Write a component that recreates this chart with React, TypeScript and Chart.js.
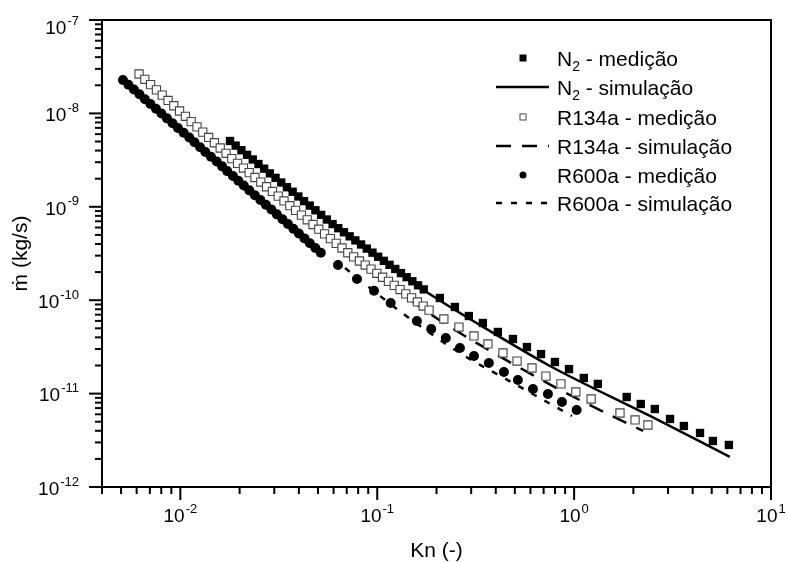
import React, { useEffect, useRef } from 'react';
import { Chart, registerables } from 'chart.js';

Chart.register(...registerables);

// ---------------- data ----------------
const n2MeasKn = [
  0.01787, 0.0191, 0.02042, 0.02182, 0.02332, 0.02493, 0.02665, 0.02849, 0.03045, 0.03255,
  0.03479, 0.03719, 0.03976, 0.04249, 0.04543, 0.04856, 0.05191, 0.05548, 0.05931, 0.0634,
  0.06777, 0.07244, 0.07745, 0.08278, 0.08849, 0.09459, 0.1011, 0.1081, 0.1155, 0.1235,
  0.132, 0.1411, 0.1508, 0.1612, 0.1723,
  0.208, 0.248, 0.292, 0.344, 0.41, 0.489, 0.576, 0.679, 0.799, 0.942,
  1.12, 1.32, 1.85, 2.18, 2.57, 3.07, 3.61, 4.36, 5.07, 6.11,
];
const n2MeasFlow = [
  5.065e-9, 4.52e-9, 4.03e-9, 3.6e-9, 3.21e-9, 2.87e-9, 2.56e-9, 2.28e-9, 2.04e-9, 1.82e-9,
  1.62e-9, 1.45e-9, 1.29e-9, 1.15e-9, 1.03e-9, 9.18e-10, 8.19e-10, 7.31e-10, 6.53e-10, 5.9e-10,
  5.34e-10, 4.83e-10, 4.37e-10, 3.95e-10, 3.57e-10, 3.23e-10, 2.92e-10, 2.64e-10, 2.39e-10, 2.16e-10,
  1.95e-10, 1.765e-10, 1.596e-10, 1.443e-10, 1.305e-10,
  1.056e-10, 8.46e-11, 6.77e-11, 5.7e-11, 4.57e-11, 3.84e-11, 3.15e-11, 2.65e-11, 2.18e-11, 1.83e-11,
  1.47e-11, 1.27e-11, 9.2e-12, 7.74e-12, 6.84e-12, 5.35e-12, 4.5e-12, 3.79e-12, 3.11e-12, 2.82e-12,
];
const n2SimKn = [0.0179, 0.0575, 0.175, 0.332, 0.754, 2.43, 6.18];
const n2SimFlow = [4.94e-9, 6.71e-10, 1.255e-10, 5.43e-11, 1.975e-11, 5.76e-12, 2.1e-12];

const r134aMeasKn = [
  0.00617, 0.0066, 0.00706, 0.00756, 0.00809, 0.00866, 0.00926, 0.00991, 0.01061, 0.01135,
  0.01215, 0.013, 0.01392, 0.01489, 0.01594, 0.01706, 0.01825, 0.01953, 0.02091, 0.02237,
  0.02394, 0.02562, 0.02742, 0.02935, 0.03141, 0.03361, 0.03597, 0.0385, 0.0412, 0.04409,
  0.04719, 0.0505, 0.05404, 0.05784, 0.0619, 0.06624, 0.07089, 0.07587, 0.08119, 0.08689,
  0.09299, 0.09952, 0.1065, 0.114, 0.122, 0.1306, 0.1397, 0.1495, 0.16, 0.1712, 0.1833,
  0.218, 0.26, 0.31, 0.365, 0.435, 0.513, 0.611, 0.719, 0.857, 1.02, 1.22, 1.71, 2.04, 2.37,
];
const r134aMeasFlow = [
  2.641e-8, 2.318e-8, 2.035e-8, 1.786e-8, 1.568e-8, 1.376e-8, 1.208e-8, 1.061e-8, 9.31e-9, 8.17e-9,
  7.17e-9, 6.3e-9, 5.53e-9, 4.85e-9, 4.26e-9, 3.74e-9, 3.28e-9, 2.92e-9, 2.6e-9, 2.32e-9,
  2.06e-9, 1.84e-9, 1.64e-9, 1.46e-9, 1.3e-9, 1.155e-9, 1.028e-9, 9.16e-10, 8.15e-10, 7.26e-10,
  6.46e-10, 5.76e-10, 5.13e-10, 4.56e-10, 4.06e-10, 3.62e-10, 3.22e-10, 2.91e-10, 2.63e-10, 2.38e-10,
  2.15e-10, 1.94e-10, 1.76e-10, 1.59e-10, 1.44e-10, 1.3e-10, 1.17e-10, 1.06e-10, 9.58e-11, 8.66e-11, 7.83e-11,
  6.29e-11, 5.16e-11, 4.14e-11, 3.4e-11, 2.72e-11, 2.23e-11, 1.88e-11, 1.54e-11, 1.27e-11, 1.04e-11,
  8.75e-12, 6.2e-12, 5.22e-12, 4.61e-12,
];
const r134aSimKn = [0.147, 0.218, 0.495, 0.867, 1.54, 2.24];
const r134aSimFlow = [1.01e-10, 5.7e-11, 2.05e-11, 1.07e-11, 5.83e-12, 3.98e-12];

const r600aMeasKn = [
  0.00511, 0.00545, 0.00581, 0.0062, 0.00661, 0.00705, 0.00752, 0.00802, 0.00855, 0.00912,
  0.00972, 0.0104, 0.0111, 0.0118, 0.0126, 0.0134, 0.0143, 0.0153, 0.0163, 0.0173,
  0.0185, 0.0197, 0.021, 0.0224, 0.0239, 0.0255, 0.0272, 0.029, 0.0309, 0.033,
  0.0352, 0.0375, 0.04, 0.0427, 0.0455, 0.0485, 0.0517,
  0.0632, 0.0789, 0.0963, 0.117, 0.159, 0.188, 0.223, 0.263, 0.31, 0.369,
  0.44, 0.518, 0.618, 0.736, 0.867, 1.03,
];
const r600aMeasFlow = [
  2.28e-8, 2.03e-8, 1.8e-8, 1.6e-8, 1.42e-8, 1.26e-8, 1.12e-8, 9.96e-9, 8.85e-9, 7.86e-9,
  6.98e-9, 6.2e-9, 5.51e-9, 4.9e-9, 4.35e-9, 3.86e-9, 3.43e-9, 3.05e-9, 2.71e-9, 2.41e-9,
  2.14e-9, 1.9e-9, 1.69e-9, 1.5e-9, 1.33e-9, 1.18e-9, 1.05e-9, 9.34e-10, 8.3e-10, 7.37e-10,
  6.55e-10, 5.82e-10, 5.17e-10, 4.59e-10, 4.08e-10, 3.62e-10, 3.22e-10,
  2.38e-10, 1.69e-10, 1.26e-10, 9.33e-11, 5.99e-11, 4.91e-11, 3.94e-11, 3.08e-11, 2.53e-11, 2.13e-11,
  1.7e-11, 1.4e-11, 1.12e-11, 9.9e-12, 8.13e-12, 6.68e-12,
];
const r600aSimKn = [0.0686, 0.134, 0.263, 0.489, 0.975];
const r600aSimFlow = [2.21e-10, 7.29e-11, 2.72e-11, 1.3e-11, 5.76e-12];

// axes
const xMin = 0.004;
const xMax = 10;
const yMin = 1e-12;
const yMax = 1e-7;
const xMajorExps = [-2, -1, 0, 1];
const yMajorExps = [-12, -11, -10, -9, -8, -7];
const xMinorDecades = [-3, -2, -1, 0];
const yMinorDecades = [-12, -11, -10, -9, -8];
const minorMultipliers = [2, 3, 4, 5, 6, 7, 8, 9];
const xTitle = 'Kn (-)';
const yTitle = 'ṁ (kg/s)';

// legend
const legendLabels = [
  { main: 'N', sub: '2', rest: ' - medição', kind: 'filledSquare' },
  { main: 'N', sub: '2', rest: ' - simulação', kind: 'solid' },
  { main: 'R134a - medição', sub: '', rest: '', kind: 'openSquare' },
  { main: 'R134a - simulação', sub: '', rest: '', kind: 'longDash' },
  { main: 'R600a - medição', sub: '', rest: '', kind: 'circle' },
  { main: 'R600a - simulação', sub: '', rest: '', kind: 'shortDash' },
];

const FONT = '"Liberation Sans", Arial, Helvetica, sans-serif';
const LONG_DASH = [15, 11];
const SHORT_DASH = [6, 9];

const pts = (xs: number[], ys: number[]) => xs.map((x, i) => ({ x, y: ys[i] }));

function drawPower(ctx: CanvasRenderingContext2D, exp: number, x: number, cy: number, align: 'center' | 'right') {
  const baseFont = `19px ${FONT}`;
  const supFont = `13px ${FONT}`;
  ctx.font = baseFont;
  const wb = ctx.measureText('10').width;
  ctx.font = supFont;
  const sup = String(exp);
  const ws = ctx.measureText(sup).width;
  const total = wb + 1 + ws;
  const left = align === 'center' ? x - total / 2 : x - total;
  ctx.textAlign = 'left';
  ctx.textBaseline = 'alphabetic';
  ctx.font = baseFont;
  ctx.fillText('10', left, cy + 19 * 0.358);
  ctx.font = supFont;
  ctx.fillText(sup, left + wb + 1, cy - 7 + 13 * 0.358);
}

const decorPlugin = {
  id: 'decor',
  afterDraw(chart: any) {
    const { ctx, chartArea: a, scales } = chart;
    const xs = scales.x;
    const ys = scales.y;
    ctx.save();
    ctx.fillStyle = '#000';
    ctx.strokeStyle = '#000';
    ctx.lineWidth = 2;
    ctx.setLineDash([]);
    ctx.strokeRect(a.left, a.top, a.right - a.left, a.bottom - a.top);

    const tick = (x1: number, y1: number, x2: number, y2: number) => {
      ctx.beginPath();
      ctx.moveTo(x1, y1);
      ctx.lineTo(x2, y2);
      ctx.stroke();
    };
    // x ticks
    xMajorExps.forEach((e) => {
      const px = xs.getPixelForValue(Math.pow(10, e));
      tick(px, a.bottom, px, a.bottom + 13);
      drawPower(ctx, e, px, 515, 'center');
    });
    xMinorDecades.forEach((e) => {
      minorMultipliers.forEach((m) => {
        const v = m * Math.pow(10, e);
        if (v < xMin * 0.999 || v > xMax * 1.001) return;
        const px = xs.getPixelForValue(v);
        tick(px, a.bottom, px, a.bottom + 7);
      });
    });
    // y ticks
    yMajorExps.forEach((e) => {
      const py = ys.getPixelForValue(Math.pow(10, e));
      tick(a.left, py, a.left - 13, py);
      drawPower(ctx, e, 79, Math.max(py + 1, 27), 'right');
    });
    yMinorDecades.forEach((e) => {
      minorMultipliers.forEach((m) => {
        const v = m * Math.pow(10, e);
        if (v < yMin * 0.999 || v > yMax * 1.001) return;
        const py = ys.getPixelForValue(v);
        tick(a.left, py, a.left - 7, py);
      });
    });

    // axis titles
    ctx.font = `21px ${FONT}`;
    ctx.textAlign = 'center';
    ctx.textBaseline = 'alphabetic';
    ctx.fillText(xTitle, (a.left + a.right) / 2, 557);
    ctx.save();
    ctx.translate(27, (a.top + a.bottom) / 2);
    ctx.rotate(-Math.PI / 2);
    ctx.fillText(yTitle, 0, 0);
    ctx.restore();

    // legend
    const rowY = [58, 87, 117, 146, 175, 203];
    const symX = 523;
    const lineX1 = 496;
    const lineX2 = 549;
    const textX = 557;
    legendLabels.forEach((item, i) => {
      const y = rowY[i];
      ctx.setLineDash([]);
      ctx.lineWidth = 2.5;
      if (item.kind === 'filledSquare') {
        ctx.fillRect(symX - 3.5, y - 3.5, 7, 7);
      } else if (item.kind === 'openSquare') {
        ctx.lineWidth = 1;
        ctx.strokeStyle = '#444';
        ctx.strokeRect(symX - 3, y - 3, 6, 6);
        ctx.strokeStyle = '#000';
      } else if (item.kind === 'circle') {
        ctx.beginPath();
        ctx.arc(symX, y, 3.5, 0, Math.PI * 2);
        ctx.fill();
      } else {
        if (item.kind === 'longDash') ctx.setLineDash(LONG_DASH);
        if (item.kind === 'shortDash') ctx.setLineDash(SHORT_DASH);
        tick(lineX1, y, lineX2, y);
        ctx.setLineDash([]);
      }
      ctx.textAlign = 'left';
      ctx.textBaseline = 'alphabetic';
      const base = y + 21 * 0.358;
      ctx.font = `21px ${FONT}`;
      ctx.fillText(item.main, textX, base);
      let cx = textX + ctx.measureText(item.main).width;
      if (item.sub) {
        ctx.font = `14px ${FONT}`;
        ctx.fillText(item.sub, cx, base + 5);
        cx += ctx.measureText(item.sub).width;
        ctx.font = `21px ${FONT}`;
      }
      if (item.rest) ctx.fillText(item.rest, cx, base);
    });
    ctx.restore();
  },
};

export default function App() {
  const ref = useRef<HTMLCanvasElement | null>(null);
  useEffect(() => {
    document.body.style.margin = '0';
    const canvas = ref.current;
    if (!canvas) return;
    const lineBase = { showLine: true, pointRadius: 0, borderColor: '#000', borderWidth: 2.5, fill: false, cubicInterpolationMode: 'monotone' as const, order: 2 };
    const chart = new Chart(canvas, {
      type: 'scatter',
      data: {
        datasets: [
          { ...lineBase, label: 'N2 - simulação', data: pts(n2SimKn, n2SimFlow) },
          { ...lineBase, label: 'R134a - simulação', data: pts(r134aSimKn, r134aSimFlow), borderDash: LONG_DASH },
          { ...lineBase, label: 'R600a - simulação', data: pts(r600aSimKn, r600aSimFlow), borderDash: SHORT_DASH },
          {
            label: 'R600a - medição', data: pts(r600aMeasKn, r600aMeasFlow), pointStyle: 'circle', pointRadius: 5,
            backgroundColor: '#000', borderColor: '#000', borderWidth: 0, order: 1,
          },
          {
            label: 'R134a - medição', data: pts(r134aMeasKn, r134aMeasFlow), pointStyle: 'rect', pointRadius: 5.8,
            backgroundColor: '#fff', borderColor: '#444', borderWidth: 1.1, order: 1,
          },
          {
            label: 'N2 - medição', data: pts(n2MeasKn, n2MeasFlow), pointStyle: 'rect', pointRadius: 5.9,
            backgroundColor: '#000', borderColor: '#000', borderWidth: 0, order: 1,
          },
        ] as any,
      },
      options: {
        animation: false,
        responsive: false,
        events: [],
        layout: { padding: { left: 102, right: 17, top: 20, bottom: 75 } },
        plugins: { legend: { display: false }, tooltip: { enabled: false } },
        scales: {
          x: { type: 'logarithmic', min: xMin, max: xMax, display: false },
          y: { type: 'logarithmic', min: yMin, max: yMax, display: false },
        },
      },
      plugins: [decorPlugin],
    });
    return () => chart.destroy();
  }, []);
  return <canvas ref={ref} width={788} height={562} style={{ display: 'block' }} />;
}
